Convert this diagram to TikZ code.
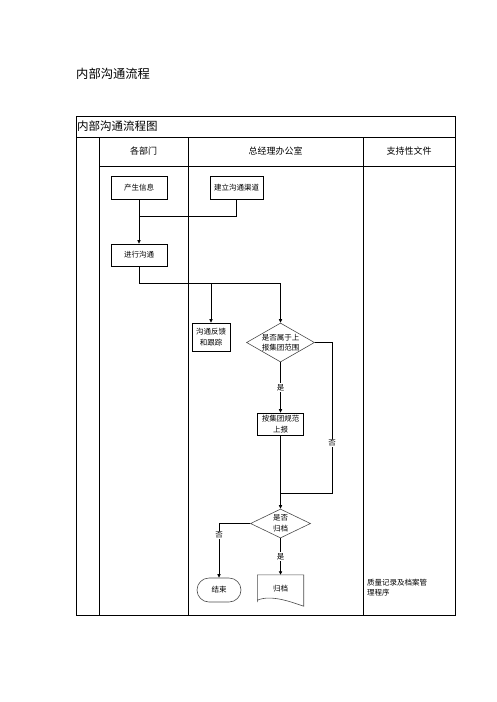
\documentclass[tikz,border=0pt]{standalone}
\usepackage{fontspec}
\setmainfont{Liberation Serif}
\newfontfamily\cjk{Noto Sans CJK SC}
\usetikzlibrary{arrows.meta,shapes.geometric}
\tikzset{
  box/.style={draw=black, line width=0.8pt, minimum width=#1, inner sep=0pt, align=center, font=\cjk\fontsize{7.5}{10.5}\selectfont},
  dia/.style={draw=black!70, line width=0.6pt, shape=diamond, inner sep=0pt, align=center, font=\cjk\fontsize{7.5}{10.5}\selectfont},
  term/.style={draw=black!70, line width=0.6pt, rounded corners=12pt, minimum width=44pt, minimum height=24pt, inner sep=0pt, font=\cjk\fontsize{7.5}{10.5}\selectfont},
  conn/.style={line width=0.8pt},
  arr/.style={conn, -{Triangle[length=3.5pt,width=3.2pt]}},
  lbl/.style={fill=white, inner sep=1pt, font=\cjk\fontsize{7.5}{9}\selectfont},
  tab/.style={line width=0.9pt},
}
\begin{document}
\begin{tikzpicture}[x=1pt,y=-1pt]
\useasboundingbox (0,0) rectangle (496,702);
% heading
\node[anchor=west, inner sep=0pt, font=\cjk\fontsize{12.3}{14}\selectfont] (head) at (76,74) {内部沟通流程};
% table
\draw[tab] (76,116) rectangle (455,615);
\draw[tab] (76,137) -- (455,137);
\draw[tab] (99,166) -- (455,166);
\draw[tab] (99,137) -- (99,615);
\draw[tab] (188,137) -- (188,615);
\draw[tab] (363,137) -- (363,615);
\node[anchor=west, inner sep=0pt, font=\cjk\fontsize{11.5}{13}\selectfont] (ttl) at (77,126.5) {内部沟通流程图};
\node[font=\cjk\fontsize{9}{11}\selectfont] (h1) at (143.5,151.5) {各部门};
\node[font=\cjk\fontsize{9}{11}\selectfont] (h2) at (275.5,151.5) {总经理办公室};
\node[font=\cjk\fontsize{9}{11}\selectfont] (h3) at (409,151.5) {支持性文件};
% nodes
\node[box=56pt, minimum height=23pt] (A) at (139,187.5) {产生信息};
\node[box=53pt, minimum height=23pt] (B) at (236.5,187.5) {建立沟通渠道};
\node[box=56pt, minimum height=22pt] (C) at (139,255) {进行沟通};
\node[box=38pt, minimum height=28pt] (D) at (211,337) {沟通反馈\\和跟踪};
\node[dia, aspect=1.75, minimum width=68pt, minimum height=39pt] (E) at (280.5,342.5) {是否属于上\\报集团范围};
\node[box=46pt, minimum height=22pt] (F) at (280.5,424) {按集团规范\\上报};
\node[dia, aspect=2.1, minimum width=60pt, minimum height=29pt] (G) at (280.5,523.5) {是否\\归档};
\node[term] (H) at (219,590) {结束};
\node[minimum width=46pt, minimum height=27pt, inner sep=0pt, font=\cjk\fontsize{7.5}{10.5}\selectfont] (I) at (280.5,588.5) {归档};
\draw[draw=black!70, line width=0.6pt] (I.south west) -- (I.north west) -- (I.north east) -- ([yshift=-4pt]I.south east)
  .. controls +(-12,-4) and +(14,-6) .. ([yshift=2pt]I.south west) -- cycle;
\node[anchor=north west, inner sep=0pt, align=left, font=\cjk\fontsize{7.5}{10}\selectfont] (J) at (367,578.5) {质量记录及档案管\\理程序};
% connectors
\coordinate (j1) at (139,216);
\coordinate (j2) at (280.5,283);
\coordinate (j4) at (332,493);
\coordinate (j5) at (280.5,493);
\draw[arr] (A.south) -- (C.north);
\draw[conn] (B.south) |- (j1);
\draw[arr] (C.south) |- (j2) -- (E.north);
\draw[arr] (D.north |- j2) -- (D.north);
\draw[arr] (E.south) -- node[lbl]{是} (F.north);
\draw[conn] (E.east) -| (j4) node[lbl, pos=0.834]{否} -- (j5);
\draw[arr] (F.south) -- (G.north);
\draw[arr] (G.west) -| node[lbl, pos=0.605]{否} (H.north);
\draw[arr] (G.south) -- node[lbl]{是} (I.north);
\end{tikzpicture}
\end{document}
